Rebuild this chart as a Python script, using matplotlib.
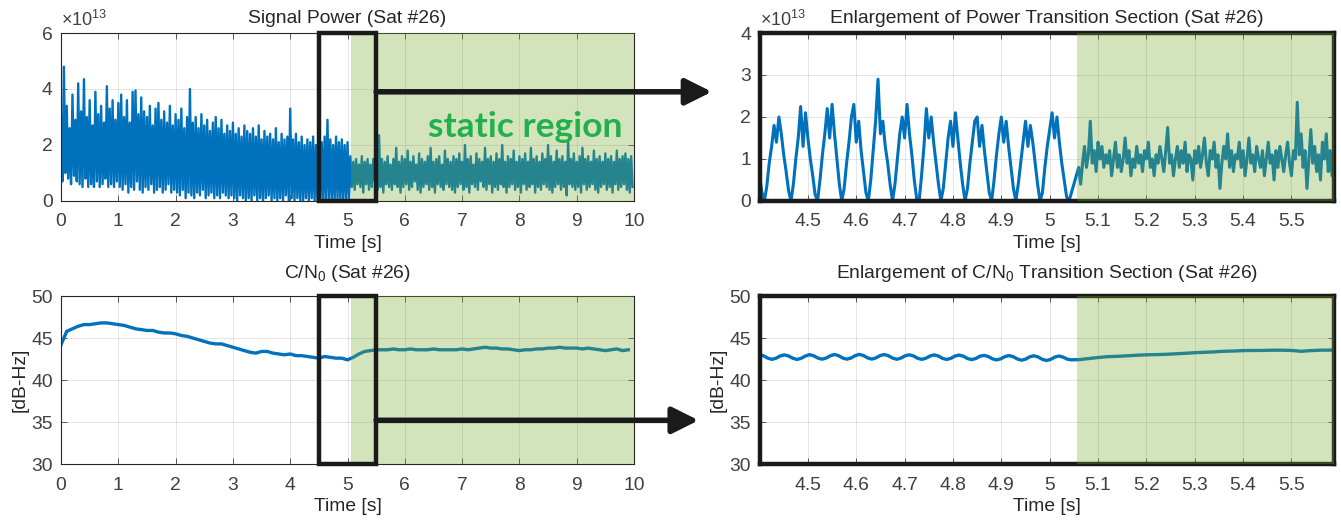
import numpy as np
import matplotlib
matplotlib.use('Agg')
import matplotlib.pyplot as plt
from matplotlib.patches import Rectangle, ConnectionPatch

plt.rcParams['font.family'] = ['Liberation Sans', 'DejaVu Sans']
plt.rcParams['mathtext.fontset'] = 'custom'
plt.rcParams['mathtext.rm'] = 'Liberation Sans'
plt.rcParams['mathtext.it'] = 'Liberation Sans:italic'

# ---- signal power, full run (x1e13), sampled every 0.05 s, peaks and troughs ----
power_peaks_dyn = [3.0, 4.8, 3.4, 2.6, 3.8, 2.9, 4.2, 3.2, 4.35, 3.0,
                   3.6, 2.7, 3.9, 3.1, 3.4, 2.8, 4.1, 3.3, 3.6, 2.9,
                   3.5, 3.8, 3.0, 3.6, 2.8, 3.9, 3.95, 3.1, 3.7, 3.2,
                   3.0, 3.4, 2.7, 3.3, 3.5, 2.9, 3.2, 2.8, 3.4, 2.7,
                   3.1, 2.9, 3.3, 2.6, 3.0, 4.0, 2.8, 3.0, 2.6, 3.1,
                   2.7, 2.9, 2.5, 2.8, 3.0, 2.6, 2.9, 2.4, 2.7, 2.5,
                   2.8, 2.4, 2.6, 2.3, 2.7, 2.5, 2.4, 2.6, 2.3, 2.7,
                   2.2, 2.5, 2.3, 2.4, 2.2, 2.6, 2.1, 2.4, 2.2, 2.3,
                   3.3, 2.2, 2.4, 2.1, 2.3, 2.0, 2.2, 2.1, 2.3, 2.0,
                   2.2, 2.1, 2.3, 2.9, 2.2, 2.0, 2.3, 2.1, 2.2, 2.0, 2.1]
power_troughs_dyn = [0.7, 1.0, 0.8, 0.6, 0.9, 0.7,
                     0.6, 0.5, 0.8, 0.5, 0.6, 0.5, 0.7, 0.5, 0.6, 0.8, 0.5, 0.6, 0.5, 0.7,
                     0.5, 0.4, 0.6, 0.3, 0.5, 0.4, 0.7, 0.4, 0.3, 0.5,
                     0.4, 0.6, 0.3, 0.4, 0.5, 0.3, 0.4, 0.6, 0.3, 0.4,
                     0.3, 0.2, 0.4, 0.1, 0.3, 0.2, 0.1, 0.3, 0.2, 0.4,
                     0.1, 0.2, 0.3, 0.1, 0.2, 0.1, 0.3, 0.2, 0.1, 0.2,
                     0.1, 0.0, 0.2, 0.1, 0.0, 0.1, 0.0, 0.2, 0.0, 0.1,
                     0.0, 0.1, 0.2, 0.0, 0.1, 0.0, 0.1, 0.0, 0.2, 0.0,
                     0.1, 0.0, 0.1, 0.0, 0.0, 0.1, 0.0, 0.1, 0.0, 0.0,
                     0.1, 0.0, 0.0, 0.1, 0.0, 0.0, 0.1, 0.0, 0.0, 0.1, 0.0]
power_peaks_static = [1.6, 1.4, 1.5, 1.3, 1.6, 1.4, 1.5, 1.3, 1.5, 1.4,
                      2.35, 1.5, 1.4, 1.6, 1.3, 1.5, 1.9, 1.4, 1.6, 1.5,
                      1.8, 1.4, 1.6, 1.3, 1.7, 1.5, 1.4, 1.6, 1.9, 1.4,
                      1.5, 1.6, 1.3, 1.8, 1.5, 1.4, 1.6, 1.5, 1.7, 1.4,
                      2.0, 1.5, 1.6, 1.3, 1.7, 1.5, 1.4, 1.9, 1.5, 1.6,
                      1.4, 1.7, 1.5, 2.0, 1.4, 1.6, 1.5, 1.8, 1.4, 1.6,
                      1.5, 1.7, 1.4, 1.9, 1.5, 1.6, 1.4, 1.7, 1.5, 2.0,
                      1.6, 1.4, 1.8, 1.5, 1.6, 1.4, 2.1, 1.5, 1.7, 1.4,
                      1.6, 1.9, 1.5, 1.6, 1.4, 1.8, 1.5, 1.6, 1.4, 1.7,
                      1.5, 1.6, 1.4, 1.8, 1.5, 1.6, 1.7, 1.5, 1.6]
power_troughs_static = [0.5, 0.4, 0.6, 0.5, 0.3, 0.6, 0.4, 0.5, 0.7, 0.4,
                        0.5, 0.3, 0.6, 0.5, 0.4, 0.6, 0.5, 0.3, 0.5, 0.6,
                        0.4, 0.5, 0.7, 0.4, 0.3, 0.5, 0.6, 0.4, 0.5, 0.3,
                        0.6, 0.5, 0.4, 0.6, 0.5, 0.4, 0.3, 0.5, 0.6, 0.4,
                        0.5, 0.3, 0.6, 0.5, 0.4, 0.7, 0.5, 0.4, 0.6, 0.3,
                        0.5, 0.4, 0.6, 0.5, 0.3, 0.5, 0.6, 0.4, 0.5, 0.3,
                        0.6, 0.4, 0.5, 0.6, 0.3, 0.5, 0.4, 0.6, 0.5, 0.4,
                        0.3, 0.5, 0.6, 0.4, 0.5, 0.2, 0.6, 0.5, 0.4, 0.5,
                        0.3, 0.6, 0.4, 0.5, 0.6, 0.4, 0.3, 0.5, 0.6, 0.4,
                        0.5, 0.3, 0.6, 0.4, 0.5, 0.6, 0.4, 0.3, 0.5]

# ---- enlarged power, 4.40 s to 5.06 s every 5 ms, then static part every 4 ms ----
zoom_power_dyn = [0.6, 0.2, 0.0, 0.35, 0.9, 1.3, 1.8, 1.4, 2.0, 1.6, 1.1, 0.7, 0.25,
                  0.0, 0.4, 1.0, 1.5, 2.25, 1.3, 2.1, 1.5, 1.0, 0.6, 0.15,
                  0.0, 0.5, 1.1, 1.6, 2.2, 1.5, 2.3, 1.6, 1.0, 0.4,
                  0.0, 0.3, 0.9, 1.4, 2.0, 2.3, 1.4, 1.9, 1.2, 0.7, 0.2,
                  0.0, 0.5, 1.2, 1.9, 2.9, 1.6, 1.9, 1.3, 0.9, 0.4,
                  0.0, 0.4, 1.0, 1.6, 2.0, 1.5, 2.3, 1.6, 1.1, 0.5,
                  0.05, 0.0, 0.6, 1.3, 2.2, 1.5, 2.0, 1.4, 0.9, 0.4,
                  0.0, 0.3, 0.9, 1.5, 1.9, 1.3, 2.1, 1.5, 0.9, 0.4,
                  0.0, 0.3, 0.9, 1.4, 1.9, 2.0, 1.3, 1.8, 1.2, 0.7, 0.2,
                  0.0, 0.5, 1.1, 1.6, 2.0, 1.4, 1.9, 1.3, 0.8, 0.3,
                  0.0, 0.4, 0.9, 1.4, 1.9, 1.3, 1.8, 1.4, 0.9, 0.4,
                  0.0, 0.2, 0.8, 1.3, 1.7, 2.1, 1.5, 2.0, 1.4, 0.9, 0.5, 0.1,
                  0.0, 0.2, 0.4, 0.6, 0.8]
zoom_power_static = [0.4, 0.9, 1.3, 0.8, 1.1, 1.9, 0.9, 1.2, 0.7, 1.4,
                     1.0, 1.3, 0.8, 1.1, 0.9, 1.2, 0.6, 1.0, 1.4, 0.8,
                     1.1, 0.7, 1.0, 1.5, 0.9, 1.2, 0.6, 1.0, 0.8, 1.3,
                     0.9, 1.1, 0.7, 1.2, 1.0, 1.4, 0.8, 1.0, 0.6, 1.1,
                     0.9, 1.3, 1.0, 0.7, 1.2, 1.75, 0.9, 1.1, 0.6, 1.0,
                     1.3, 0.8, 1.2, 0.9, 1.4, 0.7, 1.1, 1.0, 0.5, 1.2,
                     0.9, 1.3, 0.8, 1.1, 1.5, 0.9, 0.6, 1.2, 1.0, 1.4,
                     0.8, 1.1, 0.3, 0.9, 1.3, 1.0, 1.6, 0.8, 1.2, 0.7,
                     1.1, 1.0, 1.4, 0.8, 1.2, 0.6, 1.0, 1.5, 0.9, 1.1,
                     0.7, 1.3, 1.0, 0.8, 1.2, 0.6, 1.0, 1.4, 0.9, 1.1,
                     0.5, 1.2, 0.8, 1.3, 1.0, 0.7, 1.1, 1.4, 0.9, 0.6,
                     1.2, 1.0, 2.35, 1.1, 1.6, 0.8, 1.2, 0.3, 1.0, 1.7,
                     0.9, 1.3, 0.7, 1.1, 0.5, 1.4, 1.0, 1.6, 0.7, 1.2,
                     0.6, 1.3, 1.1]

# ---- C/N0 full run, every 0.1 s ----
cn0_full = [44.2, 45.8, 46.1, 46.4, 46.6, 46.6, 46.7, 46.8, 46.8, 46.7,
            46.6, 46.5, 46.3, 46.1, 46.0, 45.9, 45.9, 45.7, 45.6, 45.6,
            45.5, 45.3, 45.2, 45.0, 44.8, 44.6, 44.4, 44.3, 44.3, 44.1,
            43.9, 43.7, 43.5, 43.3, 43.2, 43.4, 43.4, 43.2, 43.1, 43.0,
            43.1, 42.9, 42.9, 42.8, 42.7, 42.6, 42.8, 42.7, 42.6, 42.6,
            42.4, 42.7, 43.1, 43.4, 43.5, 43.6, 43.6, 43.6, 43.7, 43.6,
            43.6, 43.7, 43.6, 43.6, 43.6, 43.7, 43.6, 43.6, 43.6, 43.6,
            43.7, 43.6, 43.7, 43.8, 43.9, 43.8, 43.8, 43.7, 43.7, 43.6,
            43.5, 43.6, 43.6, 43.7, 43.7, 43.8, 43.8, 43.9, 43.8, 43.8,
            43.8, 43.7, 43.8, 43.7, 43.6, 43.5, 43.6, 43.7, 43.5, 43.6]

# ---- enlarged C/N0: 4.40 s to 5.05 s every 8.6 ms, then static part every 20 ms ----
zoom_cn0_dyn = [43.00, 42.87, 42.60, 42.46, 42.60, 42.87,
                42.99, 42.86, 42.59, 42.45, 42.58, 42.85,
                43.02, 42.89, 42.62, 42.48, 42.61, 42.88,
                43.04, 42.90, 42.62, 42.48, 42.62, 42.90,
                43.05, 42.91, 42.63, 42.49, 42.63, 42.91,
                43.03, 42.89, 42.61, 42.47, 42.61, 42.88,
                43.00, 42.87, 42.59, 42.46, 42.59, 42.86,
                42.99, 42.86, 42.58, 42.45, 42.58, 42.85,
                42.97, 42.84, 42.56, 42.43, 42.56, 42.83,
                42.93, 42.80, 42.52, 42.39, 42.52, 42.79,
                42.91, 42.78, 42.50, 42.36, 42.49, 42.77,
                42.88, 42.74, 42.46, 42.32, 42.45, 42.73,
                42.86, 42.72, 42.48, 42.40, 42.42]
zoom_cn0_static = [42.42, 42.55, 42.68, 42.78, 42.82, 42.88, 42.95, 43.00, 43.02, 43.06,
                   43.12, 43.18, 43.25, 43.30, 43.35, 43.42, 43.45, 43.50, 43.52, 43.52,
                   43.55, 43.55, 43.52, 43.42, 43.50, 43.55, 43.56, 43.58]

STATIC_START = 5.057
ZOOM_RANGE = (4.5, 5.5)

blue = '#0072BD'
green = '#77AC30'
txt = '#262626'
FS = 13.9

# time axes for the stored samples
t_pk_dyn = 0.05 * np.arange(len(power_peaks_dyn))
t_tr_dyn = 0.025 + 0.05 * np.arange(len(power_troughs_dyn))
t_pk_st = 5.05 + 0.05 * np.arange(len(power_peaks_static))
t_tr_st = 5.075 + 0.05 * np.arange(len(power_troughs_static))
t_power = np.concatenate([t_pk_dyn, t_tr_dyn, t_pk_st, t_tr_st])
power = np.concatenate([power_peaks_dyn, power_troughs_dyn, power_peaks_static, power_troughs_static])
order = np.argsort(t_power)
t_power, power = t_power[order], power[order]

t_zp = np.concatenate([4.4 + 0.005 * np.arange(len(zoom_power_dyn)),
                       5.064 + 0.004 * np.arange(len(zoom_power_static))])
zp = np.concatenate([zoom_power_dyn, zoom_power_static])

t_cn0 = 0.1 * np.arange(len(cn0_full))
t_zc = np.concatenate([4.4 + 0.0086 * np.arange(len(zoom_cn0_dyn)),
                       5.06 + 0.02 * np.arange(len(zoom_cn0_static))])
zc = np.concatenate([zoom_cn0_dyn, zoom_cn0_static])

fig = plt.figure(figsize=(13.41, 5.23), dpi=100)
ax_tl = fig.add_axes([0.0455, 0.6157, 0.4273, 0.3212])
ax_bl = fig.add_axes([0.0455, 0.1128, 0.4273, 0.3212])
ax_tr = fig.add_axes([0.5664, 0.6157, 0.4284, 0.3212])
ax_br = fig.add_axes([0.5664, 0.1128, 0.4284, 0.3212])


def style(ax, thick=False):
    ax.grid(True, color=txt, alpha=0.12, lw=0.7)
    ax.set_axisbelow(True)
    ax.tick_params(direction='in', top=True, right=True, length=4, width=0.6,
                   labelsize=FS, colors='#404040')
    ax.tick_params(axis='x', pad=9)
    ax.tick_params(axis='y', pad=6)
    for s in ax.spines.values():
        if thick:
            s.set_linewidth(3.2)
            s.set_color('#1a1a1a')
        else:
            s.set_linewidth(0.8)
            s.set_color('#262626')
    ax.set_xlabel('Time [s]', fontsize=FS, color=txt, labelpad=3)


full_ticks = np.arange(0, 11, 1)
zoom_ticks = [4.5, 4.6, 4.7, 4.8, 4.9, 5.0, 5.1, 5.2, 5.3, 5.4, 5.5]
zoom_labels = ['4.5', '4.6', '4.7', '4.8', '4.9', '5', '5.1', '5.2', '5.3', '5.4', '5.5']

# top left: signal power
ax_tl.plot(t_power, power, color=blue, lw=1.7)
ax_tl.set_xlim(0, 10)
ax_tl.set_ylim(0, 6)
ax_tl.set_xticks(full_ticks)
ax_tl.set_yticks([0, 2, 4, 6])
ax_tl.set_title('Signal Power (Sat #26)', fontsize=FS, color=txt, pad=7)

# top right: enlargement of power
ax_tr.plot(t_zp, zp, color=blue, lw=2.2)
ax_tr.set_xlim(4.4, 5.588)
ax_tr.set_ylim(0, 4)
ax_tr.set_yticks([0, 1, 2, 3, 4])
ax_tr.set_title('Enlargement of Power Transition Section (Sat #26)', fontsize=FS, color=txt, pad=7)

# bottom left: C/N0
ax_bl.plot(t_cn0, cn0_full, color=blue, lw=2.4)
ax_bl.set_xlim(0, 10)
ax_bl.set_ylim(30, 50)
ax_bl.set_xticks(full_ticks)
ax_bl.set_yticks([30, 35, 40, 45, 50])
ax_bl.set_ylabel('[dB-Hz]', fontsize=FS, color=txt, labelpad=2)
ax_bl.set_title('C/N$_0$ (Sat #26)', fontsize=FS, color=txt, pad=13)

# bottom right: enlargement of C/N0
ax_br.plot(t_zc, zc, color=blue, lw=2.4)
ax_br.set_xlim(4.4, 5.588)
ax_br.set_ylim(30, 50)
ax_br.set_yticks([30, 35, 40, 45, 50])
ax_br.set_ylabel('[dB-Hz]', fontsize=FS, color=txt, labelpad=2)
ax_br.set_title('Enlargement of C/N$_0$ Transition Section (Sat #26)', fontsize=FS, color=txt, pad=13)

for ax in (ax_tr, ax_br):
    ax.set_xticks(zoom_ticks)
    ax.set_xticklabels(zoom_labels)

for ax, thick in ((ax_tl, False), (ax_bl, False), (ax_tr, True), (ax_br, True)):
    style(ax, thick)
    ax.axvspan(STATIC_START, ax.get_xlim()[1], color=green, alpha=0.32, lw=0, zorder=3)

for ax in (ax_tl, ax_tr):
    ax.text(0.0, 1.015, r'$\times$10$^{13}$', transform=ax.transAxes, fontsize=13,
            color='#404040', ha='left', va='bottom')

# black boxes marking the enlarged section
for ax in (ax_tl, ax_bl):
    y0, y1 = ax.get_ylim()
    ax.add_patch(Rectangle((ZOOM_RANGE[0], y0), ZOOM_RANGE[1] - ZOOM_RANGE[0], y1 - y0,
                           fill=False, ec='#1a1a1a', lw=3.2, zorder=5, clip_on=False))

ax_tl.text(8.1, 2.3, 'static region', fontsize=25.5, fontweight='bold', family='Lato',
           color='#22b04c', ha='center', va='baseline', zorder=6)

# arrows from the boxes to the enlargements
arrow_kw = dict(arrowstyle='-|>,head_length=0.8,head_width=0.4', lw=4, color='#1a1a1a',
                mutation_scale=20, shrinkA=0, shrinkB=0, zorder=7)
fig.add_artist(ConnectionPatch(xyA=(5.5, 3.9), coordsA=ax_tl.transData,
                               xyB=(-0.083, 0.65), coordsB=ax_tr.transAxes, **arrow_kw))
fig.add_artist(ConnectionPatch(xyA=(5.5, 35.2), coordsA=ax_bl.transData,
                               xyB=(-0.106, 0.26), coordsB=ax_br.transAxes, **arrow_kw))

fig.savefig('out.png', dpi=100)
